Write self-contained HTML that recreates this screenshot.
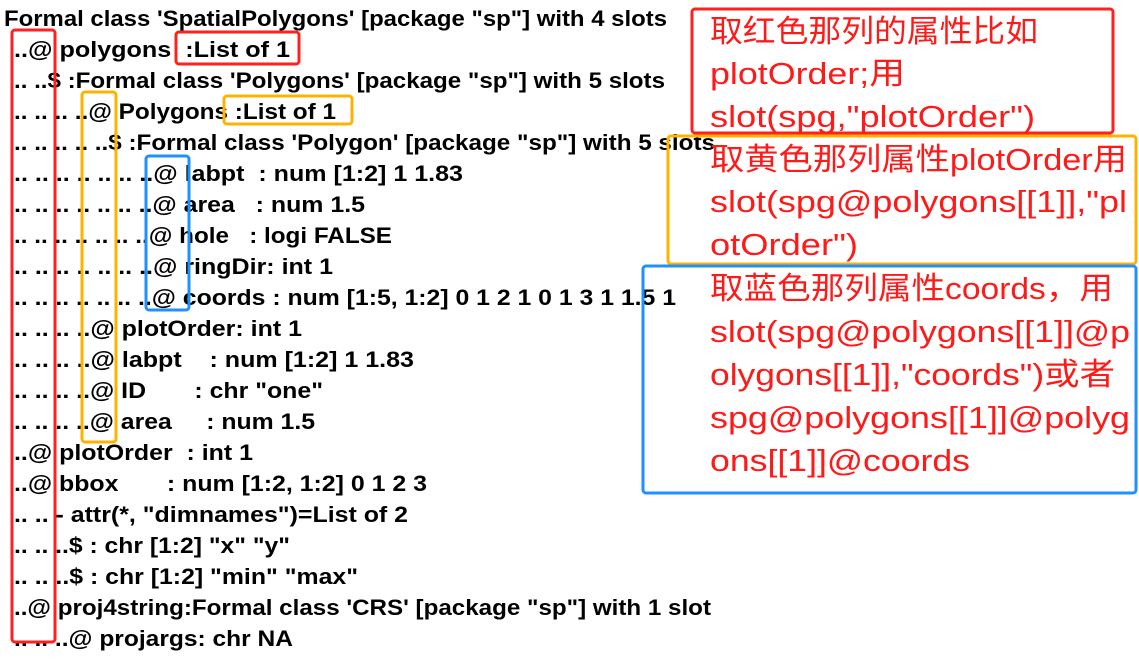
<!DOCTYPE html>
<html><head><meta charset="utf-8"><style>
html,body{margin:0;padding:0;background:#fff;}
svg{display:block}
.l text{font-family:"Liberation Sans","Noto Sans CJK SC",sans-serif;font-weight:bold;font-size:22px;fill:#000;white-space:pre}
.r text{font-family:"Liberation Sans","Noto Sans CJK SC",sans-serif;font-size:31px;fill:#ff1a1a;white-space:pre}
</style></head><body>
<svg width="1139" height="670" viewBox="0 0 1139 670" xmlns="http://www.w3.org/2000/svg" xml:space="preserve">
<g class="l">
<text x="4" y="26" textLength="663" lengthAdjust="spacingAndGlyphs">Formal class 'SpatialPolygons' [package "sp"] with 4 slots</text>
<text x="14" y="57" textLength="276" lengthAdjust="spacingAndGlyphs">..@ polygons  :List of 1</text>
<text x="14" y="88" textLength="651" lengthAdjust="spacingAndGlyphs">.. ..$ :Formal class 'Polygons' [package "sp"] with 5 slots</text>
<text x="14" y="119" textLength="322" lengthAdjust="spacingAndGlyphs">.. .. .. ..@ Polygons :List of 1</text>
<text x="14" y="150" textLength="701" lengthAdjust="spacingAndGlyphs">.. .. .. .. ..$ :Formal class 'Polygon' [package "sp"] with 5 slots</text>
<text x="14" y="181" textLength="449" lengthAdjust="spacingAndGlyphs">.. .. .. .. .. .. ..@ labpt  : num [1:2] 1 1.83</text>
<text x="14" y="212" textLength="351" lengthAdjust="spacingAndGlyphs">.. .. .. .. .. .. ..@ area   : num 1.5</text>
<text x="14" y="243" textLength="378" lengthAdjust="spacingAndGlyphs">.. .. .. .. .. .. ..@ hole   : logi FALSE</text>
<text x="14" y="274" textLength="319" lengthAdjust="spacingAndGlyphs">.. .. .. .. .. .. ..@ ringDir: int 1</text>
<text x="14" y="305" textLength="662" lengthAdjust="spacingAndGlyphs">.. .. .. .. .. .. ..@ coords : num [1:5, 1:2] 0 1 2 1 0 1 3 1 1.5 1</text>
<text x="14" y="336" textLength="288" lengthAdjust="spacingAndGlyphs">.. .. .. ..@ plotOrder: int 1</text>
<text x="14" y="367" textLength="400" lengthAdjust="spacingAndGlyphs">.. .. .. ..@ labpt    : num [1:2] 1 1.83</text>
<text x="14" y="398" textLength="309" lengthAdjust="spacingAndGlyphs">.. .. .. ..@ ID       : chr "one"</text>
<text x="14" y="429" textLength="301" lengthAdjust="spacingAndGlyphs">.. .. .. ..@ area     : num 1.5</text>
<text x="14" y="460" textLength="239" lengthAdjust="spacingAndGlyphs">..@ plotOrder  : int 1</text>
<text x="14" y="491" textLength="413" lengthAdjust="spacingAndGlyphs">..@ bbox       : num [1:2, 1:2] 0 1 2 3</text>
<text x="14" y="522" textLength="394" lengthAdjust="spacingAndGlyphs">.. .. - attr(*, "dimnames")=List of 2</text>
<text x="14" y="553" textLength="276" lengthAdjust="spacingAndGlyphs">.. .. ..$ : chr [1:2] "x" "y"</text>
<text x="14" y="584" textLength="344" lengthAdjust="spacingAndGlyphs">.. .. ..$ : chr [1:2] "min" "max"</text>
<text x="14" y="615" textLength="697" lengthAdjust="spacingAndGlyphs">..@ proj4string:Formal class 'CRS' [package "sp"] with 1 slot</text>
<text x="14" y="646" textLength="279" lengthAdjust="spacingAndGlyphs">.. .. ..@ projargs: chr NA</text>
</g>
<g fill="none" stroke-width="3">
<rect x="12" y="30" width="43" height="612" rx="3" stroke="#ff2020"/>
<rect x="176" y="32" width="123" height="32" rx="3" stroke="#ff2020"/>
<rect x="82" y="92" width="34" height="350" rx="3" stroke="#ffb300"/>
<rect x="224" y="96" width="128" height="28" rx="3" stroke="#ffb300"/>
<rect x="146" y="156" width="43" height="154" rx="3" stroke="#1e90ff"/>
<rect x="692" y="9" width="421" height="124" rx="3" stroke="#ff2020"/>
<rect x="668" y="136" width="468" height="128" rx="3" stroke="#ffb300"/>
<rect x="643" y="266" width="493" height="227" rx="3" stroke="#1e90ff"/>
</g>
<g class="r">
<text x="710" y="42" textLength="328" lengthAdjust="spacingAndGlyphs">取红色那列的属性比如</text>
<text x="710" y="84" textLength="195" lengthAdjust="spacingAndGlyphs">plotOrder;用</text>
<text x="710" y="127" textLength="325" lengthAdjust="spacingAndGlyphs">slot(spg,"plotOrder")</text>
<text x="710" y="170" textLength="417" lengthAdjust="spacingAndGlyphs">取黄色那列属性plotOrder用</text>
<text x="710" y="212" textLength="417" lengthAdjust="spacingAndGlyphs">slot(spg@polygons[[1]],"pl</text>
<text x="710" y="255" textLength="148" lengthAdjust="spacingAndGlyphs">otOrder")</text>
<text x="710" y="299" textLength="403" lengthAdjust="spacingAndGlyphs">取蓝色那列属性coords，用</text>
<text x="710" y="342" textLength="420" lengthAdjust="spacingAndGlyphs">slot(spg@polygons[[1]]@p</text>
<text x="710" y="385" textLength="405" lengthAdjust="spacingAndGlyphs">olygons[[1]],"coords")或者</text>
<text x="710" y="428" textLength="420" lengthAdjust="spacingAndGlyphs">spg@polygons[[1]]@polyg</text>
<text x="710" y="471" textLength="260" lengthAdjust="spacingAndGlyphs">ons[[1]]@coords</text>
</g>
</svg>
</body></html>
